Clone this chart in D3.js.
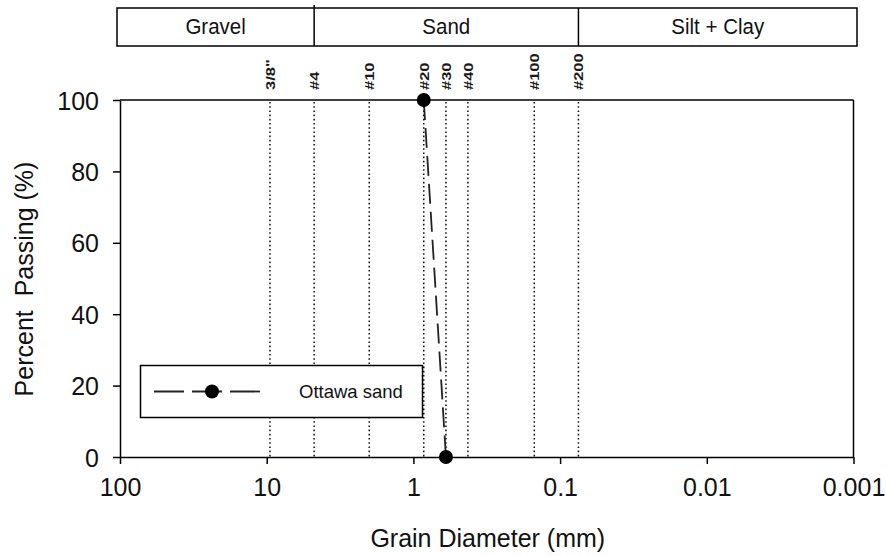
<!DOCTYPE html>
<html>
<head>
<meta charset="utf-8">
<script src="https://cdn.jsdelivr.net/npm/d3@7"></script>
<style>
  html, body { margin: 0; padding: 0; background: #fff; }
  svg { display: block; font-family: "Liberation Sans", Arial, sans-serif; }
</style>
</head>
<body>
<svg id="chart" width="886" height="556"></svg>
<script>
// Grain size distribution data
const xTickValues = [100, 10, 1, 0.1, 0.01, 0.001];
const xTickLabels = ["100", "10", "1", "0.1", "0.01", "0.001"];
const yTickValues = [0, 20, 40, 60, 80, 100];

const sieveLabels = ['3/8"', "#4", "#10", "#20", "#30", "#40", "#100", "#200"];
const sieveSizes = [9.5, 4.75, 2.0, 0.85, 0.6, 0.425, 0.15, 0.075];

const soilClasses = ["Gravel", "Sand", "Silt + Clay"];
const classBounds = [4.75, 0.075]; // gravel/sand and sand/fines boundaries (mm)

const seriesName = "Ottawa sand";
const ottawaDiameter = [0.85, 0.6];
const ottawaPassing = [100, 0];

const svg = d3.select("#chart");
const plotL = 120, plotR = 853.5, plotT = 100, plotB = 457;

const x = d3.scaleLog().domain([100, 0.001]).range([plotL, plotR]);
const y = d3.scaleLinear().domain([0, 100]).range([plotB, plotT]);

// Soil classification band
const bandTop = 8, bandBottom = 46, bandLeft = 117, bandRight = 857;
svg.append("rect")
  .attr("x", bandLeft).attr("y", bandTop)
  .attr("width", bandRight - bandLeft).attr("height", bandBottom - bandTop)
  .attr("fill", "none").attr("stroke", "#000").attr("stroke-width", 1.5);
const edges = [bandLeft, ...classBounds.map(d => x(d)), bandRight];
classBounds.forEach((d, i) => {
  svg.append("line")
    .attr("x1", x(d)).attr("x2", x(d))
    .attr("y1", i === 0 ? 5 : bandTop).attr("y2", bandBottom)
    .attr("stroke", "#000").attr("stroke-width", 1.5);
});
soilClasses.forEach((name, i) => {
  svg.append("text")
    .attr("transform", `translate(${(edges[i] + edges[i + 1]) / 2},34) scale(1,1.08)`)
    .attr("text-anchor", "middle")
    .attr("font-size", 20.5).attr("fill", "#111")
    .text(name);
});

// Sieve reference lines
sieveSizes.forEach((d, i) => {
  svg.append("line")
    .attr("x1", x(d)).attr("x2", x(d))
    .attr("y1", plotT + 2).attr("y2", plotB)
    .attr("stroke", "#111").attr("stroke-width", 1.5)
    .attr("stroke-dasharray", "1.6,2.6");
  svg.append("text")
    .attr("transform", `translate(${x(d)},90) rotate(-90) scale(1,0.8)`)
    .attr("dominant-baseline", "central")
    .attr("font-size", 16.5).attr("font-weight", "bold").attr("fill", "#1a1a1a")
    .text(sieveLabels[i]);
});

// Frame (top and right)
svg.append("line").attr("x1", plotL).attr("x2", plotR).attr("y1", plotT).attr("y2", plotT)
  .attr("stroke", "#000").attr("stroke-width", 1.5);
svg.append("line").attr("x1", plotR).attr("x2", plotR).attr("y1", plotT).attr("y2", plotB)
  .attr("stroke", "#000").attr("stroke-width", 1.5);

// Axes
const xAxis = d3.axisBottom(x)
  .tickValues(xTickValues)
  .tickFormat((d, i) => xTickLabels[i])
  .tickSizeInner(7).tickSizeOuter(0).tickPadding(14);
const gx = svg.append("g").attr("transform", `translate(0,${plotB})`).call(xAxis);

const yAxis = d3.axisLeft(y)
  .tickValues(yTickValues)
  .tickSizeInner(7).tickSizeOuter(0).tickPadding(14);
const gy = svg.append("g").attr("transform", `translate(${plotL},0)`).call(yAxis);

[gx, gy].forEach(g => {
  g.select(".domain").attr("stroke", "#000").attr("stroke-width", 1.5);
  g.selectAll(".tick line").attr("stroke", "#000").attr("stroke-width", 1.5);
  g.selectAll(".tick text")
    .attr("font-family", "Liberation Sans, Arial, sans-serif")
    .attr("font-size", 25).attr("fill", "#111");
});
gy.selectAll(".tick text").attr("dy", "0.36em");

// Axis titles
svg.append("text")
  .attr("x", (plotL + plotR) / 2 + 1).attr("y", 547)
  .attr("text-anchor", "middle").attr("font-size", 25).attr("fill", "#111")
  .text("Grain Diameter (mm)");
svg.append("text")
  .attr("transform", "translate(33,279) rotate(-90)")
  .attr("text-anchor", "middle").attr("font-size", 25).attr("fill", "#111")
  .attr("xml:space", "preserve").style("white-space", "pre")
  .text("Percent  Passing (%)");

// Gradation curve
const pts = ottawaDiameter.map((d, i) => [d, ottawaPassing[i]]);
const line = d3.line().x(d => x(d[0])).y(d => y(d[1]));
svg.append("path")
  .datum(pts)
  .attr("d", line)
  .attr("fill", "none").attr("stroke", "#222").attr("stroke-width", 1.8)
  .attr("stroke-dasharray", "20,8");
svg.selectAll("circle.pt")
  .data(pts).enter().append("circle")
  .attr("class", "pt")
  .attr("cx", d => x(d[0])).attr("cy", d => y(d[1]))
  .attr("r", 7).attr("fill", "#000");

// Legend
const lg = svg.append("g");
lg.append("rect")
  .attr("x", 140.5).attr("y", 365.5).attr("width", 282).attr("height", 52)
  .attr("fill", "#fff").attr("stroke", "#000").attr("stroke-width", 1.5);
lg.append("line")
  .attr("x1", 154).attr("x2", 260).attr("y1", 391.5).attr("y2", 391.5)
  .attr("stroke", "#222").attr("stroke-width", 1.8)
  .attr("stroke-dasharray", "30,8");
lg.append("circle").attr("cx", 212).attr("cy", 391.5).attr("r", 7).attr("fill", "#000");
lg.append("text")
  .attr("x", 299).attr("y", 398)
  .attr("font-size", 18.5).attr("fill", "#111")
  .text(seriesName);
</script>
</body>
</html>
